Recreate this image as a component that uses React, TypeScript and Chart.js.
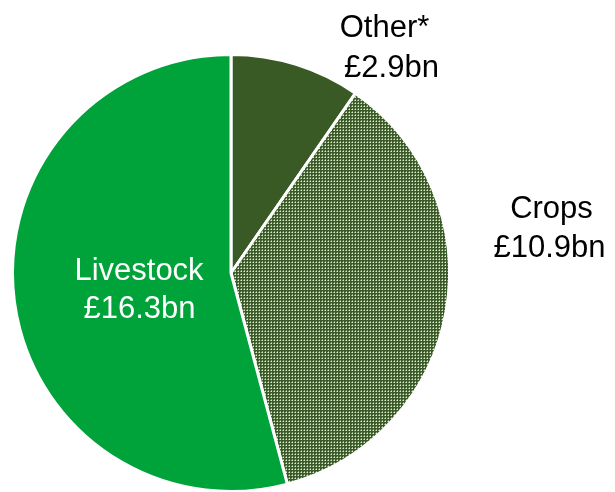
import React, { useEffect, useRef } from "react";
import { Chart, registerables } from "chart.js";

Chart.register(...registerables);

const categories = ["Other*", "Crops", "Livestock"];
const valueLabels = ["£2.9bn", "£10.9bn", "£16.3bn"];
const values = [2.9, 10.9, 16.3];

const W = 615;
const H = 492;
const RADIUS = 218.5;
const CX = 231;
const CY = 273;

// label placement (fractions of radius from centre): [dx1, dy1, dx2, dy2]
const labelLayout = [
  [0.7025, -1.08, 0.7346, -0.897],
  [1.4668, -0.2517, 1.4577, -0.0732],
  [-0.421, 0.032, -0.4188, 0.206],
];
const labelColors = ["#000000", "#000000", "#ffffff"];

function makePattern(): CanvasPattern | string {
  const c = document.createElement("canvas");
  c.width = 3;
  c.height = 3;
  const g = c.getContext("2d");
  if (!g) return "#5d7a4a";
  g.fillStyle = "#3b5a2b";
  g.fillRect(0, 0, 3, 3);
  g.fillStyle = "#8fa877";
  g.fillRect(1, 0, 1, 1);
  g.fillRect(0, 1, 1, 1);
  g.fillStyle = "#e2eccd";
  g.fillRect(1, 1, 1, 1);
  const p = g.createPattern(c, "repeat");
  return p || "#5d7a4a";
}

const labelPlugin = {
  id: "sliceLabels",
  afterDatasetsDraw(chart: any) {
    const meta = chart.getDatasetMeta(0);
    const ctx = chart.ctx;
    ctx.save();
    ctx.font = '31px "Liberation Sans", Arial, sans-serif';
    ctx.textAlign = "center";
    ctx.textBaseline = "alphabetic";
    meta.data.forEach((arc: any, i: number) => {
      const r = arc.outerRadius;
      const [a, b, c, d] = labelLayout[i];
      ctx.fillStyle = labelColors[i];
      ctx.fillText(categories[i], arc.x + a * r, arc.y + b * r);
      ctx.fillText(valueLabels[i], arc.x + c * r, arc.y + d * r);
    });
    ctx.restore();
  },
};

export default function App() {
  const ref = useRef<HTMLCanvasElement>(null);
  useEffect(() => {
    if (!ref.current) return;
    const pattern = makePattern();
    const size = RADIUS * 2;
    const chart = new Chart(ref.current, {
      type: "pie",
      data: {
        labels: categories,
        datasets: [
          {
            data: values,
            backgroundColor: ["#3a5a25", pattern as any, "#00a23a"],
            borderColor: "#ffffff",
            borderWidth: 3,
          },
        ],
      },
      options: {
        responsive: false,
        animation: false,
        radius: RADIUS,
        layout: {
          padding: {
            left: CX - RADIUS,
            top: CY - RADIUS,
            right: W - (CX - RADIUS) - size,
            bottom: H - (CY - RADIUS) - size,
          },
        },
        plugins: {
          legend: { display: false },
          tooltip: { enabled: false },
        },
      } as any,
      plugins: [labelPlugin],
    });
    return () => chart.destroy();
  }, []);
  return (
    <div style={{ position: "absolute", left: 0, top: 0, width: W, height: H, background: "#fff" }}>
      <canvas ref={ref} width={W} height={H} style={{ width: W, height: H, display: "block" }} />
    </div>
  );
}
